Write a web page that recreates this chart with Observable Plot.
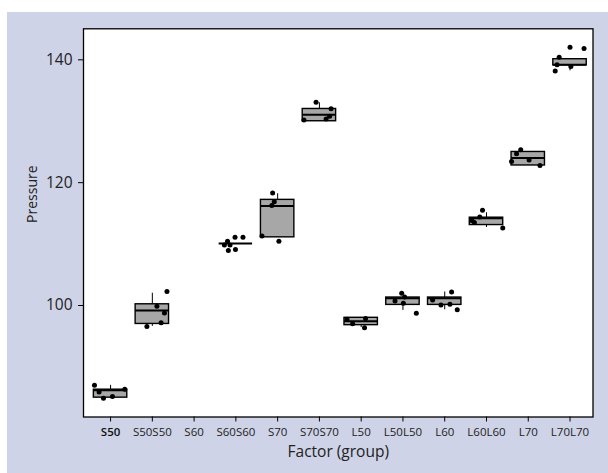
<!DOCTYPE html>
<html>
<head>
<meta charset="utf-8">
<script src="https://cdn.jsdelivr.net/npm/d3@7"></script>
<script src="https://cdn.jsdelivr.net/npm/@observablehq/plot@0.6"></script>
<style>
  html, body { margin: 0; padding: 0; background: #ffffff; }
  #chart { position: absolute; left: 7px; top: 12px; width: 601px; height: 461px; background: #ced3e7; }
  #chart svg { display: block; }
</style>
</head>
<body>
<div id="chart"></div>
<script>
// ---- data ----
const categories = ["S50","S50S50","S60","S60S60","S70","S70S70","L50","L50L50","L60","L60L60","L70","L70L70"];

// box statistics per group (S60 has no data)
const boxCategory = ["S50","S50S50","S60S60","S70","S70S70","L50","L50L50","L60","L60L60","L70","L70L70"];
const boxLower  = [84.9,  96.6, 110.1, 111.1, 130.0, 96.4,  99.2,  99.3, 112.7, 122.8, 138.2];
const boxQ1     = [85.0,  97.0, 110.1, 111.1, 130.0, 96.8, 100.1, 100.1, 113.1, 122.8, 139.1];
const boxMedian = [86.2,  99.2, 110.1, 116.2, 131.05,97.45,101.2, 101.2, 114.2, 124.0, 139.2];
const boxQ3     = [86.3, 100.2, 110.1, 117.2, 132.0, 98.0, 101.3, 101.3, 114.3, 125.0, 140.1];
const boxUpper  = [87.0, 102.0, 110.1, 118.2, 133.0, 98.0, 101.3, 102.2, 115.1, 125.0, 140.1];

const pointCategory = [
  "S50","S50","S50","S50","S50",
  "S50S50","S50S50","S50S50","S50S50","S50S50",
  "S60S60","S60S60","S60S60","S60S60","S60S60","S60S60","S60S60",
  "S70","S70","S70","S70","S70",
  "S70S70","S70S70","S70S70","S70S70","S70S70",
  "L50","L50","L50","L50",
  "L50L50","L50L50","L50L50","L50L50","L50L50",
  "L60","L60","L60","L60","L60",
  "L60L60","L60L60","L60L60","L60L60","L60L60",
  "L70","L70","L70","L70","L70",
  "L70L70","L70L70","L70L70","L70L70","L70L70","L70L70"
];
const pointValue = [
  87.0, 85.9, 84.9, 85.2, 86.35,
  96.6, 99.9, 97.2, 98.8, 102.3,
  110.45, 109.87, 109.87, 111.1, 111.1, 108.94, 109.1,
  118.3, 116.9, 116.3, 111.3, 110.45,
  133.1, 132.05, 130.8, 130.35, 130.2,
  97.75, 97.05, 97.9, 96.4,
  102.0, 101.4, 100.75, 100.35, 98.75,
  100.9, 100.08, 100.2, 102.2, 99.3,
  115.5, 114.4, 113.85, 113.5, 112.6,
  125.35, 124.7, 123.7, 123.45, 122.8,
  142.05, 141.85, 140.4, 139.2, 138.2, 138.9
];
const pointJitter = [
  -0.385, -0.275, -0.17, 0.045, 0.34,
  -0.13, 0.11, 0.21, 0.29, 0.35,
  -0.20, -0.275, -0.14, -0.02, 0.17, -0.18, -0.01,
  -0.12, -0.08, -0.14, -0.375, 0.03,
  -0.08, 0.28, 0.245, 0.16, -0.37,
  -0.34, -0.205, 0.105, 0.08,
  -0.03, 0.04, -0.19, 0.01, 0.32,
  -0.29, -0.09, 0.125, 0.165, 0.30,
  -0.095, -0.16, -0.35, -0.29, 0.39,
  -0.18, -0.28, 0.02, -0.40, 0.28,
  0.0, 0.335, -0.26, -0.31, -0.355, 0.02
];
const yTicks = [100, 120, 140];

// ---- tables built from the arrays ----
const idx = c => categories.indexOf(c);
const boxes = boxCategory.map((c, i) => ({
  pos: idx(c), lower: boxLower[i], q1: boxQ1[i], median: boxMedian[i], q3: boxQ3[i], upper: boxUpper[i]
}));
const points = pointCategory.map((c, i) => ({pos: idx(c) + pointJitter[i], value: pointValue[i]}));
const half = 0.4;
const font = "'Open Sans', 'Noto Sans', sans-serif";

const chart = Plot.plot({
  width: 601,
  height: 461,
  marginLeft: 76,
  marginRight: 15.5,
  marginTop: 16.3,
  marginBottom: 56.5,
  style: {background: "transparent", fontFamily: font},
  x: {type: "linear", domain: [-0.648, 11.55]},
  y: {domain: [81.85, 145.05]},
  marks: [
    Plot.frame({fill: "white", stroke: "black", strokeWidth: 1.3}),
    Plot.ruleX(boxes, {x: "pos", y1: "lower", y2: "q1", stroke: "black", strokeWidth: 1}),
    Plot.ruleX(boxes, {x: "pos", y1: "q3", y2: "upper", stroke: "black", strokeWidth: 1}),
    Plot.rect(boxes.filter(d => d.q3 > d.q1), {x1: d => d.pos - half, x2: d => d.pos + half, y1: "q1", y2: "q3",
      fill: "#a7a7a7", stroke: "black", strokeWidth: 1.4}),
    Plot.ruleY(boxes, {y: "median", x1: d => d.pos - half, x2: d => d.pos + half, stroke: "black", strokeWidth: 2}),
    Plot.dot(points, {x: "pos", y: "value", r: 2.5, fill: "black", stroke: "none"}),
    Plot.axisX({ticks: [0], tickFormat: i => categories[i], tickSize: 5, tickPadding: 6,
      fontSize: 11.5, fontWeight: 600, fill: "#111", label: null}),
    Plot.axisX({ticks: d3.range(1, categories.length), tickFormat: i => categories[i], tickSize: 5, tickPadding: 6,
      fontSize: 11.5, fill: "#222", label: null}),
    Plot.axisY({ticks: yTicks, tickSize: 5, tickPadding: 6, fontSize: 15.5, fill: "#222", label: null}),
    Plot.text(["Factor (group)"], {frameAnchor: "bottom", dy: 40, text: d => d, fontSize: 15.5, fill: "#222"}),
    Plot.text(["Pressure"], {frameAnchor: "left", dx: -51, rotate: -90, text: d => d, fontSize: 14, fill: "#222"})
  ]
});
document.getElementById("chart").append(chart);
</script>
</body>
</html>
